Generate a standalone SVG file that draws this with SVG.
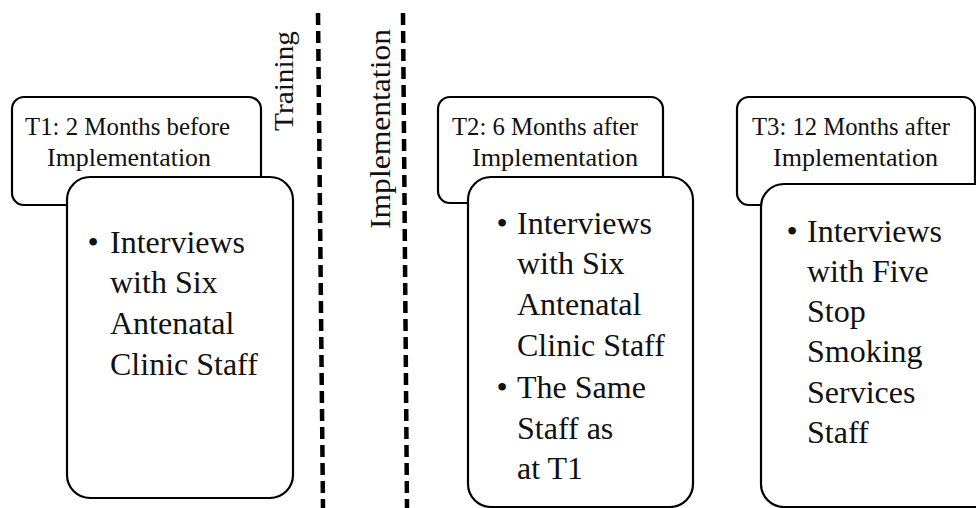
<svg xmlns="http://www.w3.org/2000/svg" width="976" height="508" viewBox="0 0 976 508">
<style>
.box{fill:#fff;stroke:#000;stroke-width:2.2}
.hd{font-family:"Liberation Serif","Times New Roman",serif;font-size:25px;fill:#111}
.ct{font-family:"Liberation Serif","Times New Roman",serif;font-size:32px;fill:#111}
.bl{font-family:"Liberation Serif","Times New Roman",serif;font-size:32px;fill:#111;text-anchor:middle}
.rot{font-family:"Liberation Serif","Times New Roman",serif;font-size:28px;fill:#111;text-anchor:middle}
.dash{stroke:#000;stroke-width:4.5;stroke-dasharray:12 6;fill:none}
</style>
<rect width="976" height="508" fill="#fff"/>
<g id="dividers">
<line class="dash" x1="318" y1="13" x2="323" y2="508"/>
<line class="dash" x1="403" y1="13" x2="407" y2="508"/>
<text class="rot" x="293" y="81" transform="rotate(-90 293 81)" textLength="100" lengthAdjust="spacingAndGlyphs">Training</text>
<text class="rot" x="390" y="129" transform="rotate(-90 390 129)" style="font-size:29px" textLength="200" lengthAdjust="spacingAndGlyphs">Implementation</text>
</g>
<g id="t1">
<rect class="box" x="12" y="97" width="249" height="108" rx="12"/>
<text class="hd" x="25" y="135" textLength="205" lengthAdjust="spacingAndGlyphs">T1: 2 Months before</text>
<text class="hd" x="47" y="166" textLength="164" lengthAdjust="spacingAndGlyphs">Implementation</text>
<rect class="box" x="67" y="177" width="226" height="321" rx="23"/>
<text class="bl" x="93" y="253">•</text>
<text class="ct" x="110" y="253">Interviews</text>
<text class="ct" x="110" y="293">with Six</text>
<text class="ct" x="110" y="334">Antenatal</text>
<text class="ct" x="110" y="375">Clinic Staff</text>
</g>
<g id="t2">
<rect class="box" x="438" y="97" width="225" height="106" rx="12"/>
<text class="hd" x="452" y="135" textLength="186" lengthAdjust="spacingAndGlyphs">T2: 6 Months after</text>
<text class="hd" x="472" y="166" textLength="166" lengthAdjust="spacingAndGlyphs">Implementation</text>
<rect class="box" x="468" y="177" width="225" height="330" rx="23"/>
<text class="bl" x="502" y="234">•</text>
<text class="ct" x="517" y="234">Interviews</text>
<text class="ct" x="517" y="274">with Six</text>
<text class="ct" x="517" y="315">Antenatal</text>
<text class="ct" x="517" y="356">Clinic Staff</text>
<text class="bl" x="502" y="398">•</text>
<text class="ct" x="517" y="398">The Same</text>
<text class="ct" x="517" y="439">Staff as</text>
<text class="ct" x="517" y="479">at T1</text>
</g>
<g id="t3">
<rect class="box" x="737" y="97" width="238" height="108" rx="12"/>
<text class="hd" x="752" y="135" textLength="198" lengthAdjust="spacingAndGlyphs">T3: 12 Months after</text>
<text class="hd" x="773" y="166" textLength="165" lengthAdjust="spacingAndGlyphs">Implementation</text>
<rect class="box" x="761" y="184" width="240" height="323" rx="23"/>
<text class="bl" x="792" y="242">•</text>
<text class="ct" x="807" y="242">Interviews</text>
<text class="ct" x="807" y="282">with Five</text>
<text class="ct" x="807" y="322">Stop</text>
<text class="ct" x="807" y="362">Smoking</text>
<text class="ct" x="807" y="403">Services</text>
<text class="ct" x="807" y="443">Staff</text>
</g>
</svg>
